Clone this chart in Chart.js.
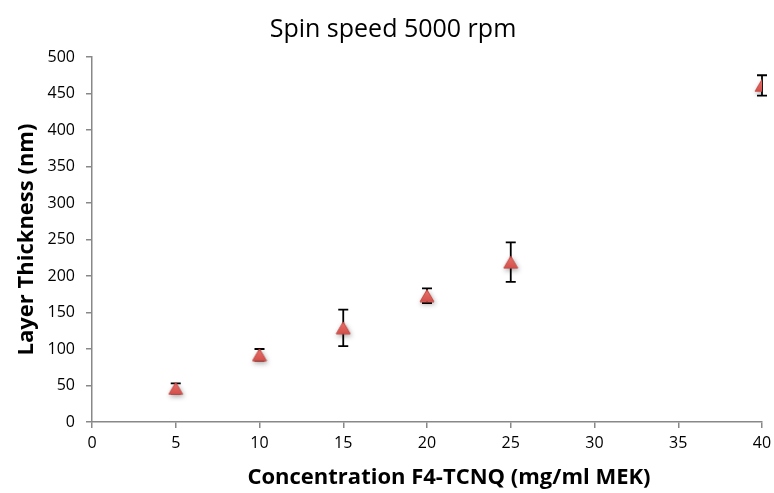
<!DOCTYPE html>
<html><head><meta charset="utf-8">
<script src="https://cdn.jsdelivr.net/npm/chart.js@4/dist/chart.umd.min.js"></script>
<style>html,body{margin:0;padding:0;background:#fff}#w{width:774px;height:493px}</style>
</head><body><div id="w"><canvas id="c"></canvas></div>
<script>
const concentrations = [5, 10, 15, 20, 25, 40];
const thickness = [46, 92, 129, 173, 219, 461];
const errors = [7, 8, 25, 10, 27, 14];
const xTicks = [0, 5, 10, 15, 20, 25, 30, 35, 40];
const yTicks = [0, 50, 100, 150, 200, 250, 300, 350, 400, 450, 500];

const FONT = "'Open Sans', 'Liberation Sans', sans-serif";

// centred triangle marker (bounding box centred on the data point)
const marker = document.createElement('canvas');
marker.width = 16; marker.height = 14;
(function () {
  const m = marker.getContext('2d');
  const g = m.createLinearGradient(0, 1, 0, 13);
  g.addColorStop(0, '#e8716b'); g.addColorStop(1, '#d4504b');
  m.fillStyle = g; m.strokeStyle = '#c44a45'; m.lineWidth = 1;
  m.beginPath(); m.moveTo(8, 1); m.lineTo(15, 13); m.lineTo(1, 13); m.closePath();
  m.fill(); m.stroke();
})();

const errorBars = {
  id: 'errorBars',
  beforeDatasetsDraw(chart) {
    const ctx = chart.ctx, xs = chart.scales.x, ys = chart.scales.y;
    ctx.save();
    ctx.strokeStyle = '#000';
    ctx.lineWidth = 1.8;
    concentrations.forEach((c, i) => {
      const px = xs.getPixelForValue(c);
      const top = ys.getPixelForValue(thickness[i] + errors[i]);
      const bot = ys.getPixelForValue(thickness[i] - errors[i]);
      ctx.beginPath();
      ctx.moveTo(px, top); ctx.lineTo(px, bot);
      ctx.moveTo(px - 5, top); ctx.lineTo(px + 5, top);
      ctx.moveTo(px - 5, bot); ctx.lineTo(px + 5, bot);
      ctx.stroke();
    });
    ctx.restore();
  }
};
const shadow = {
  id: 'shadow',
  beforeDatasetDraw(chart) {
    const ctx = chart.ctx; ctx.save();
    ctx.shadowColor = 'rgba(0,0,0,0.35)'; ctx.shadowBlur = 5; ctx.shadowOffsetX = 1; ctx.shadowOffsetY = 2;
  },
  afterDatasetDraw(chart) { chart.ctx.restore(); }
};
// shift the centred titles slightly to where the reference places them
const titleShift = {
  id: 'titleShift',
  afterLayout(chart) {
    const xs = chart.scales.x;
    if (xs && !xs._shifted) {
      const orig = xs.drawTitle.bind(xs);
      xs.drawTitle = function () { const c = this.ctx; c.save(); c.translate(22, 0); orig(); c.restore(); };
      xs._shifted = true;
    }
    const tb = chart.titleBlock;
    if (tb && !tb._shifted) {
      const o = tb.draw.bind(tb);
      tb.draw = function () { const c = this.ctx; c.save(); c.translate(12, 0); o(); c.restore(); };
      tb._shifted = true;
    }
  }
};

new Chart(document.getElementById('c'), {
  type: 'scatter',
  data: {
    datasets: [{
      data: concentrations.map((c, i) => ({x: c, y: thickness[i]})),
      pointStyle: marker,
      pointRadius: 8,
      backgroundColor: '#dd5a55',
      borderColor: '#c84f4a',
      borderWidth: 1
    }]
  },
  options: {
    responsive: true, maintainAspectRatio: false, animation: false,
    layout: { padding: { left: 0, right: 12, top: 0, bottom: 0 } },
    plugins: {
      legend: { display: false }, tooltip: { enabled: false },
      title: { display: true, text: 'Spin speed 5000 rpm', color: '#000',
        font: { family: FONT, size: 25, weight: 'normal', lineHeight: 1.2 }, padding: { top: 15, bottom: 12 } }
    },
    scales: {
      x: {
        type: 'linear', min: 0, max: 40,
        afterBuildTicks: s => { s.ticks = xTicks.map(v => ({value: v})); },
        afterFit: s => { s.height = 71; s.paddingRight = 0; s.paddingLeft = 0; },
        grid: { display: true, drawOnChartArea: false, drawTicks: true, tickLength: 6, color: '#888', lineWidth: 1.5 },
        border: { display: true, color: '#888', width: 1.5 },
        ticks: { color: '#000', font: { family: FONT, size: 16 }, padding: 6, maxRotation: 0 },
        title: { display: true, text: 'Concentration F4-TCNQ (mg/ml MEK)', color: '#000',
          font: { family: FONT, size: 22, weight: 'bold', lineHeight: 1.2 }, padding: { top: 4, bottom: 2 } }
      },
      y: {
        min: 0, max: 500,
        afterBuildTicks: s => { s.ticks = yTicks.map(v => ({value: v})); },
        afterFit: s => { s.width = 92; },
        grid: { display: true, drawOnChartArea: false, drawTicks: true, tickLength: 6, color: '#888', lineWidth: 1.5 },
        border: { display: true, color: '#888', width: 1.5 },
        ticks: { color: '#000', font: { family: FONT, size: 16 }, padding: 11 },
        title: { display: true, text: 'Layer Thickness (nm)', color: '#000',
          font: { family: FONT, size: 22, weight: 'bold', lineHeight: 1.2 }, padding: { top: 14, bottom: 4 } }
      }
    }
  },
  plugins: [shadow, errorBars, titleShift]
});
</script></body></html>
